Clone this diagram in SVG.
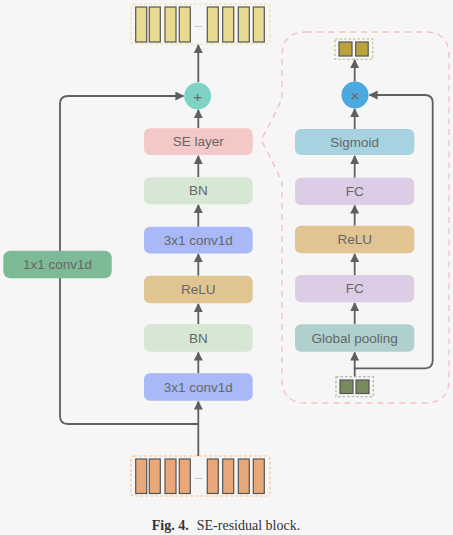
<svg xmlns="http://www.w3.org/2000/svg" width="453" height="535" viewBox="0 0 453 535">
<defs>
<style>
.box{stroke:none}
.lbl{font-family:"Liberation Sans",Arial,sans-serif;font-size:13.5px;fill:#666;text-anchor:middle;dominant-baseline:central}
.ln{fill:none;stroke:#5f5f5f;stroke-width:1.8}
.bar{stroke:#555;stroke-width:1.2}
.dots{font-family:"Liberation Sans",Arial,sans-serif;font-size:9px;fill:#777;text-anchor:middle}
.cap{font-family:"Liberation Serif","Times New Roman",serif;font-size:14px;fill:#333;text-anchor:middle}
</style>
<marker id="ah" viewBox="0 0 10 10" refX="9" refY="5" markerWidth="9" markerHeight="9" markerUnits="userSpaceOnUse" orient="auto">
<path d="M0,0 L10,5 L0,10 Z" fill="#5f5f5f"/>
</marker>
</defs>
<rect width="453" height="535" fill="#f6f6f6"/>

<g id="connectors">
<line class="ln" x1="198.3" y1="456" x2="198.3" y2="401.5" marker-end="url(#ah)"/>
<path class="ln" d="M198.3,424 H68 Q60,424 60,416 V104 Q60,96 68,96 H183.5" marker-end="url(#ah)"/>
<line class="ln" x1="198.3" y1="373.3" x2="198.3" y2="352.5" marker-end="url(#ah)"/>
<line class="ln" x1="198.3" y1="324.3" x2="198.3" y2="304" marker-end="url(#ah)"/>
<line class="ln" x1="198.3" y1="275.7" x2="198.3" y2="254" marker-end="url(#ah)"/>
<line class="ln" x1="198.3" y1="226.7" x2="198.3" y2="205" marker-end="url(#ah)"/>
<line class="ln" x1="198.3" y1="177.3" x2="198.3" y2="156" marker-end="url(#ah)"/>
<line class="ln" x1="198.3" y1="128.3" x2="198.3" y2="110" marker-end="url(#ah)"/>
<line class="ln" x1="198.3" y1="82" x2="198.3" y2="45" marker-end="url(#ah)"/>

<line class="ln" x1="354.7" y1="376.7" x2="354.7" y2="352.5" marker-end="url(#ah)"/>
<path class="ln" d="M354.7,368.3 H425 Q432.7,368.3 432.7,360.6 V102.7 Q432.7,95 425,95 H369.5" marker-end="url(#ah)"/>
<line class="ln" x1="354.7" y1="324.3" x2="354.7" y2="303" marker-end="url(#ah)"/>
<line class="ln" x1="354.7" y1="275" x2="354.7" y2="254" marker-end="url(#ah)"/>
<line class="ln" x1="354.7" y1="225.7" x2="354.7" y2="205.5" marker-end="url(#ah)"/>
<line class="ln" x1="354.7" y1="177.7" x2="354.7" y2="156" marker-end="url(#ah)"/>
<line class="ln" x1="354.7" y1="129" x2="354.7" y2="109" marker-end="url(#ah)"/>
<line class="ln" x1="354.7" y1="81.5" x2="354.7" y2="60" marker-end="url(#ah)"/>
</g>

<g id="se-panel">
<path d="M306,32 H425 Q449,32 449,56 V379 Q449,403 425,403 H306 Q282,403 282,379 V183 Q275,165 261,140 Q275,115 282,98 V56 Q282,32 306,32 Z" fill="none" stroke="#f3c3bf" stroke-width="1.4" stroke-dasharray="6,5"/>
</g>

<g id="output-bars">
<rect x="131" y="4" width="139" height="40" rx="3" fill="none" stroke="#ede196" stroke-width="1.2" stroke-dasharray="3,2"/>
<rect class="bar" x="135.7" y="7" width="11" height="35" fill="#e8da91"/>
<rect class="bar" x="149.3" y="7" width="11" height="35" fill="#e8da91"/>
<rect class="bar" x="165" y="7" width="11" height="35" fill="#e8da91"/>
<rect class="bar" x="179.3" y="7" width="11" height="35" fill="#e8da91"/>
<text class="dots" x="198.5" y="27">...</text>
<rect class="bar" x="207.3" y="7" width="11" height="35" fill="#e8da91"/>
<rect class="bar" x="222.7" y="7" width="11" height="35" fill="#e8da91"/>
<rect class="bar" x="238.3" y="7" width="11" height="35" fill="#e8da91"/>
<rect class="bar" x="253.3" y="7" width="11" height="35" fill="#e8da91"/>
</g>

<g id="input-bars">
<rect x="131" y="456" width="139" height="40" rx="3" fill="none" stroke="#f5c293" stroke-width="1.2" stroke-dasharray="3,2"/>
<rect class="bar" x="135.7" y="459" width="11" height="34.5" fill="#e9a877"/>
<rect class="bar" x="149.3" y="459" width="11" height="34.5" fill="#e9a877"/>
<rect class="bar" x="165" y="459" width="11" height="34.5" fill="#e9a877"/>
<rect class="bar" x="179.3" y="459" width="11" height="34.5" fill="#e9a877"/>
<text class="dots" x="198.5" y="479">...</text>
<rect class="bar" x="207.3" y="459" width="11" height="34.5" fill="#e9a877"/>
<rect class="bar" x="222.7" y="459" width="11" height="34.5" fill="#e9a877"/>
<rect class="bar" x="238.3" y="459" width="11" height="34.5" fill="#e9a877"/>
<rect class="bar" x="253.3" y="459" width="11" height="34.5" fill="#e9a877"/>
</g>

<g id="add">
<circle cx="197.7" cy="96" r="13.5" fill="#7ed3c6"/>
<text class="lbl" x="197.7" y="96" style="font-size:15px">+</text>
</g>

<g id="se-layer"><rect class="box" x="144" y="128.3" width="108.7" height="26.7" rx="6" fill="#f4c8c7"/><text class="lbl" x="198.3" y="141.7">SE layer</text></g>
<g id="bn2"><rect class="box" x="144" y="177.3" width="108.7" height="27" rx="6" fill="#d6e8d3"/><text class="lbl" x="198.3" y="190.8">BN</text></g>
<g id="conv2"><rect class="box" x="144" y="226.7" width="108.7" height="26.7" rx="6" fill="#a9b8f6"/><text class="lbl" x="198.3" y="240">3x1 conv1d</text></g>
<g id="relu1"><rect class="box" x="144" y="275.7" width="108.7" height="27.6" rx="6" fill="#e0c592"/><text class="lbl" x="198.3" y="289.5">ReLU</text></g>
<g id="bn1"><rect class="box" x="144" y="324.3" width="108.7" height="27.4" rx="6" fill="#d6e8d3"/><text class="lbl" x="198.3" y="338">BN</text></g>
<g id="conv1"><rect class="box" x="144" y="373.3" width="108.7" height="27.4" rx="6" fill="#a9b8f6"/><text class="lbl" x="198.3" y="387">3x1 conv1d</text></g>

<g id="shortcut"><rect class="box" x="3.3" y="250.7" width="108.4" height="27.6" rx="7" fill="#7dba95"/><text class="lbl" x="57.5" y="264.5">1x1 conv1d</text></g>

<g id="se-output">
<rect x="335" y="39" width="37.7" height="20.3" fill="none" stroke="#c6b675" stroke-width="1.1" stroke-dasharray="2.5,2"/>
<rect class="bar" x="339" y="42" width="13" height="14" fill="#baa23f"/>
<rect class="bar" x="355.7" y="42" width="12.5" height="14" fill="#baa23f"/>
</g>

<g id="multiply">
<circle cx="355" cy="95" r="13.5" fill="#4ba9e0"/>
<text class="lbl" x="355" y="95" style="font-size:15px">×</text>
</g>

<g id="sigmoid"><rect class="box" x="295" y="129" width="119.3" height="26" rx="6" fill="#a6d3df"/><text class="lbl" x="354.7" y="142">Sigmoid</text></g>
<g id="fc2"><rect class="box" x="295" y="177.7" width="119.3" height="27.3" rx="6" fill="#dcccE6"/><text class="lbl" x="354.7" y="191.3">FC</text></g>
<g id="relu-se"><rect class="box" x="295" y="225.7" width="119.3" height="27.6" rx="6" fill="#e0c592"/><text class="lbl" x="354.7" y="239.5">ReLU</text></g>
<g id="fc1"><rect class="box" x="295" y="275" width="119.3" height="27.3" rx="6" fill="#dcccE6"/><text class="lbl" x="354.7" y="288.7">FC</text></g>
<g id="global-pooling"><rect class="box" x="295" y="324.3" width="119.3" height="27.4" rx="6" fill="#afd0cf"/><text class="lbl" x="354.7" y="338">Global pooling</text></g>

<g id="se-input">
<rect x="336" y="376.7" width="37.3" height="20" fill="none" stroke="#a0a890" stroke-width="1.1" stroke-dasharray="2.5,2"/>
<rect class="bar" x="340" y="380" width="13" height="13.5" fill="#7a8b5a"/>
<rect class="bar" x="356" y="380" width="13" height="13.5" fill="#7a8b5a"/>
</g>

<g id="caption">
<text class="cap" x="226" y="530"><tspan font-weight="bold">Fig. 4.</tspan><tspan dx="8">SE-residual block.</tspan></text>
</g>
</svg>
